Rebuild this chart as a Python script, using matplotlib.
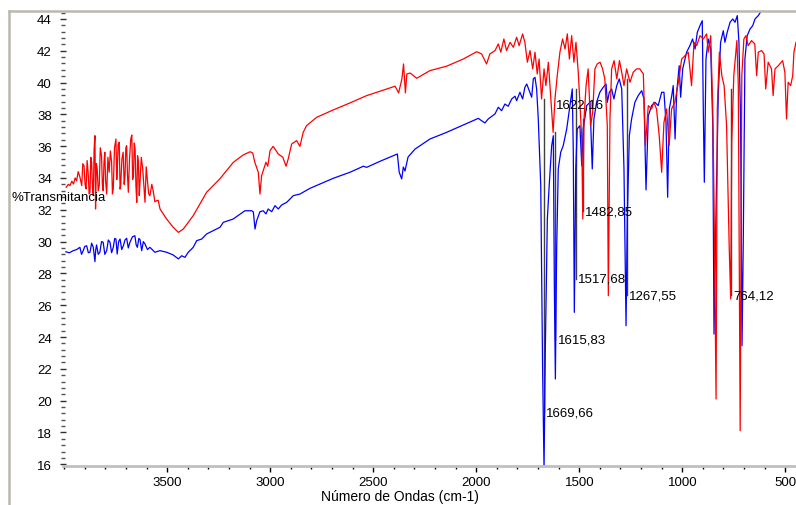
import matplotlib
matplotlib.use('Agg')
import matplotlib.pyplot as plt
from matplotlib.ticker import MultipleLocator
from matplotlib.lines import Line2D

# spectrum 1 (red)
red_wn = [3991, 3980, 3972, 3963, 3955, 3947, 3940, 3932, 3924, 3915, 3910, 3904, 3899, 3894, 3889,
          3884, 3879, 3875, 3871, 3867, 3863, 3859, 3855, 3851, 3848, 3844, 3840, 3835, 3830, 3825,
          3819, 3815, 3811, 3807, 3803, 3799, 3794, 3788, 3782, 3776, 3770, 3766, 3762, 3756, 3749,
          3745, 3742, 3738, 3733, 3729, 3726, 3720, 3714, 3709, 3705, 3701, 3697, 3693, 3689, 3683,
          3677, 3672, 3668, 3664, 3660, 3656, 3652, 3648, 3644, 3640, 3636, 3633, 3626, 3619, 3613,
          3608, 3602, 3597, 3590, 3584, 3575, 3568, 3560, 3552, 3544, 3535,
          3503, 3471, 3446, 3422, 3374, 3309, 3245, 3179, 3131, 3098, 3085, 3075, 3058, 3050, 3042,
          3034, 3021, 3012, 3001, 2986, 2961, 2939, 2923, 2913, 2896, 2872, 2856, 2840, 2824, 2774,
          2694, 2613, 2532, 2451, 2394, 2377, 2361, 2353, 2344, 2337, 2321, 2289, 2225, 2144, 2063,
          1998, 1974, 1950, 1934, 1909, 1893, 1881, 1866, 1853, 1836, 1820, 1804, 1792, 1775, 1764,
          1752, 1739, 1726, 1715, 1704, 1695, 1683, 1671, 1662, 1650, 1638, 1627, 1618, 1607, 1594,
          1581, 1569, 1558, 1548, 1537, 1526, 1516, 1505, 1497, 1488, 1483, 1477, 1467, 1457, 1445,
          1435, 1424, 1413, 1399, 1387, 1376, 1364, 1359, 1351, 1343, 1331, 1318, 1305, 1294, 1283,
          1270, 1254, 1238, 1222, 1206, 1189, 1179, 1165, 1149, 1138, 1125, 1112, 1100, 1089, 1076,
          1064, 1052, 1036, 1019, 1003, 987, 971, 955, 943, 930, 914, 898, 882, 874, 862,
          852, 846, 836, 830, 820, 808, 797, 785, 772, 765, 760, 750, 735, 728, 719,
          711, 701, 691, 680, 664, 648, 639, 631, 615, 603, 595, 583, 567, 559, 550,
          534, 513, 502, 494, 486, 474, 464, 458, 448]
red_t = [33.42, 33.60, 33.52, 33.80, 33.62, 34.00, 33.83, 34.40, 34.06, 33.52, 34.90, 34.77, 33.60, 33.31, 35.10,
         34.36, 33.00, 33.10, 35.30, 34.99, 33.40, 32.89, 35.80, 36.66, 32.05, 34.90, 34.57, 33.20, 33.52, 35.90,
         35.40, 33.60, 33.20, 35.00, 35.62, 33.80, 32.99, 35.30, 34.36, 35.70, 34.99, 33.00, 33.31, 35.90, 36.45,
         33.90, 34.77, 36.10, 36.25, 33.30, 33.52, 35.20, 35.62, 33.60, 34.14, 35.90, 36.03, 34.20, 33.10, 35.20,
         36.45, 36.70, 33.90, 34.14, 36.20, 35.82, 33.50, 32.47, 35.40, 34.99, 32.90, 33.52, 35.30, 34.57, 33.40,
         32.47, 34.70, 33.94, 33.00, 32.89, 33.60, 33.18, 32.50, 32.57, 32.60, 32.05,
         31.42, 30.90, 30.58, 30.79, 31.63, 33.10, 33.94, 34.99, 35.45, 35.65, 35.57, 34.99, 34.36, 32.99, 34.14,
         34.46, 34.99, 34.74, 35.72, 35.99, 35.51, 35.30, 34.74, 35.19, 36.14, 36.35, 35.99, 36.87, 37.29, 37.82,
         38.28, 38.72, 39.18, 39.53, 39.77, 39.35, 40.23, 41.17, 39.35, 40.54, 40.60, 40.27, 40.75, 41.03, 41.48,
         41.94, 41.80, 41.17, 41.80, 42.01, 42.43, 41.91, 42.74, 42.01, 42.53, 42.22, 42.85, 42.32, 43.06, 42.53,
         41.28, 42.01, 40.86, 41.91, 40.54, 41.48, 38.97, 40.86, 39.81, 41.28, 38.97, 36.87, 38.97, 40.43, 41.91,
         42.74, 42.11, 43.06, 41.48, 42.95, 41.28, 42.53, 40.65, 38.76, 36.45, 31.42, 37.71, 39.81, 40.86, 37.29,
         38.13, 40.86, 41.17, 41.28, 40.86, 40.23, 37.29, 26.60, 37.71, 40.86, 41.38, 40.23, 41.38, 40.65, 39.81,
         40.86, 40.02, 40.65, 40.86, 40.86, 40.54, 36.03, 38.55, 38.34, 38.76, 38.34, 36.66, 34.36, 37.50, 38.34,
         36.03, 38.34, 38.76, 40.02, 41.48, 41.69, 41.91, 39.81, 42.53, 42.32, 42.95, 42.74, 43.06, 41.91, 42.95,
         38.34, 32.68, 20.10, 38.34, 41.91, 40.43, 39.81, 37.29, 29.53, 26.39, 36.25, 40.43, 42.64, 39.81, 18.11,
         40.43, 42.74, 42.95, 42.32, 42.64, 42.43, 40.43, 41.91, 42.01, 41.80, 39.60, 41.28, 40.86, 39.18, 40.86,
         41.06, 41.38, 40.65, 37.71, 40.02, 39.81, 40.43, 41.91, 42.53]

# spectrum 2 (blue)
blue_wn = [3992, 3975, 3956, 3940, 3924, 3916, 3908, 3900, 3891, 3883, 3875, 3867, 3859, 3851, 3847,
           3843, 3835, 3827, 3819, 3811, 3803, 3794, 3786, 3778, 3770, 3762, 3755, 3749, 3743, 3736,
           3729, 3721, 3713, 3705, 3697, 3689, 3681, 3669, 3657, 3651, 3645, 3638, 3632, 3624, 3616,
           3608, 3596, 3584, 3560, 3535, 3503, 3471,
           3446, 3430, 3414, 3398, 3374, 3357, 3333, 3309, 3277, 3244, 3228, 3180, 3123, 3090, 3082,
           3074, 3066, 3050, 3034, 3021, 3010, 2993, 2977, 2961, 2945, 2920, 2888, 2856, 2807, 2759,
           2694, 2613, 2548, 2532, 2467, 2395, 2383, 2374, 2362, 2354, 2346, 2331, 2297, 2225, 2144,
           2063, 1990, 1974, 1958, 1942, 1909, 1893, 1877, 1861, 1845, 1828, 1812, 1804, 1788, 1775,
           1764, 1755, 1743, 1731, 1723, 1715, 1707, 1699, 1687, 1678, 1671, 1665, 1655, 1646, 1634,
           1626, 1621, 1616, 1610, 1602, 1590, 1578, 1561, 1545, 1534, 1529, 1524, 1517, 1510, 1497,
           1488, 1481, 1464, 1448, 1437, 1429, 1416, 1400, 1384, 1370, 1364, 1354, 1343, 1332, 1318,
           1306, 1294, 1283, 1273, 1267, 1257, 1246, 1230, 1214, 1197, 1186, 1176, 1165, 1149, 1133,
           1117, 1100, 1089, 1079, 1071, 1063, 1051, 1044, 1035, 1027, 1015, 1008, 998, 979, 963,
           950, 938, 927, 914, 903, 898, 893, 885, 874, 862, 852, 846, 836, 825, 814,
           801, 793, 782, 768, 755, 744, 733, 725, 717, 710, 704, 696, 685, 671, 658,
           647, 631, 619, 607]
blue_t = [29.36, 29.30, 29.43, 29.50, 29.64, 29.20, 29.43, 29.70, 29.74, 29.30, 29.33, 29.90, 29.64, 28.74, 29.50,
          29.79, 29.20, 29.33, 30.00, 29.96, 29.20, 29.43, 30.10, 29.96, 29.30, 29.64, 30.20, 30.16, 29.22, 30.00,
          30.16, 29.50, 29.74, 30.10, 30.21, 29.60, 29.96, 30.30, 30.37, 29.80, 29.64, 30.20, 30.12, 29.43, 30.00,
          29.85, 29.50, 29.64, 29.33, 29.43, 29.33, 29.16,
          28.91, 29.11, 29.01, 29.33, 29.64, 30.06, 30.16, 30.48, 30.69, 30.90, 31.21, 31.42, 31.94, 31.94, 31.86,
          30.79, 31.31, 31.88, 31.94, 31.74, 32.05, 31.88, 32.26, 32.05, 32.30, 32.47, 32.89, 32.99, 33.35, 33.62,
          33.98, 34.36, 34.74, 34.67, 35.05, 35.45, 35.51, 34.36, 33.94, 34.69, 34.44, 35.32, 35.82, 36.45, 36.87,
          37.33, 37.75, 37.60, 37.46, 37.71, 38.03, 38.45, 38.23, 38.65, 38.51, 38.97, 39.14, 38.86, 39.39, 38.97,
          39.70, 39.91, 39.49, 39.08, 40.23, 40.33, 39.60, 37.71, 33.52, 22.01, 15.70, 23.04, 31.42, 33.52, 36.03,
          36.66, 27.23, 21.36, 29.33, 34.57, 35.62, 36.03, 37.08, 38.55, 39.60, 35.62, 25.55, 34.57, 37.08, 37.29,
          34.77, 37.08, 38.55, 38.76, 34.57, 37.71, 38.76, 39.39, 39.70, 39.91, 38.76, 39.39, 39.60, 38.97, 39.81,
          40.23, 39.60, 34.57, 24.71, 31.42, 36.66, 37.71, 38.76, 39.18, 39.49, 38.97, 33.25, 37.90, 38.55, 38.76,
          38.55, 39.39, 39.39, 37.50, 32.79, 38.34, 39.18, 39.81, 36.45, 39.39, 41.06, 39.08, 40.86, 41.91, 42.32,
          42.74, 42.11, 43.16, 43.58, 43.89, 38.34, 33.73, 41.48, 42.74, 42.11, 37.29, 24.19, 32.05, 39.39, 42.53,
          43.26, 42.53, 43.16, 43.79, 44.00, 43.79, 44.21, 42.53, 37.71, 23.45, 29.96, 41.48, 42.95, 43.37, 43.58,
          44.00, 44.21, 44.46, 44.75]

# peak labels
peak_wn = [1669.66, 1615.83, 1517.68, 1482.85, 1267.55, 764.12, 1622.16]
peak_lbl = ['1669,66', '1615,83', '1517,68', '1482,85', '1267,55', '764,12', '1622,16']
peak_txt_t = [19.28, 23.87, 27.65, 31.92, 26.64, 26.64, 38.65]
peak_top_t = [38.97, 36.89, 39.60, 37.70, 40.20, 39.60, None]

plt.rcParams.update({'font.family': 'Liberation Sans', 'font.size': 9.5})
fig = plt.figure(figsize=(7.96, 5.06), dpi=100)
ax = fig.add_axes([63 / 796, 39 / 506, 1 - 63 / 796, 455 / 506])

for wn, top, bot in zip(peak_wn, peak_top_t, peak_txt_t):
    if top is not None:
        ax.plot([wn, wn], [top, bot], color='#404040', lw=1, zorder=1)

ax.plot(blue_wn, blue_t, color='#0000ff', lw=0.9, zorder=2)
ax.plot(red_wn, red_t, color='#ff0000', lw=0.9, zorder=3)

for wn, lbl, t in zip(peak_wn, peak_lbl, peak_txt_t):
    ax.annotate(lbl, xy=(wn, t), xytext=(1.5, 0), textcoords='offset points',
                ha='left', va='center', fontsize=9.5, zorder=4)

ax.set_xlim(4006, 448)
ax.set_ylim(15.89, 44.5)
ax.set_xticks([3500, 3000, 2500, 2000, 1500, 1000, 500])
ax.xaxis.set_minor_locator(MultipleLocator(100))
ax.set_yticks(range(16, 45, 2))
ax.yaxis.set_minor_locator(MultipleLocator(0.4))

for s in ['top', 'right', 'left']:
    ax.spines[s].set_visible(False)
ax.spines['bottom'].set_color('#c0c0c0')
ax.spines['bottom'].set_linewidth(2)
ax.tick_params(axis='x', which='major', length=4, width=1, pad=3, color='black')
ax.tick_params(axis='x', which='minor', length=2, width=1, color='black')
ax.tick_params(axis='y', which='major', length=4, width=1, pad=6, direction='inout', color='#303030')
ax.tick_params(axis='y', which='minor', length=2.5, width=1, direction='inout', color='#505050')

fig.text(400 / 796, 9 / 506, 'Número de Ondas (cm-1)', ha='center', va='center', fontsize=10)
fig.text(11 / 796, (506 - 197.7) / 506, '%Transmitancia', ha='left', va='center', fontsize=9.5)

# window frame
fc = '#bcb8b0'
fig.add_artist(Line2D([9 / 796, 9 / 796], [0, 1 - 12 / 506], color=fc, lw=1.8))
fig.add_artist(Line2D([9 / 796, 1], [1 - 12 / 506, 1 - 12 / 506], color=fc, lw=1.8))

fig.savefig('out.png', dpi=100)
